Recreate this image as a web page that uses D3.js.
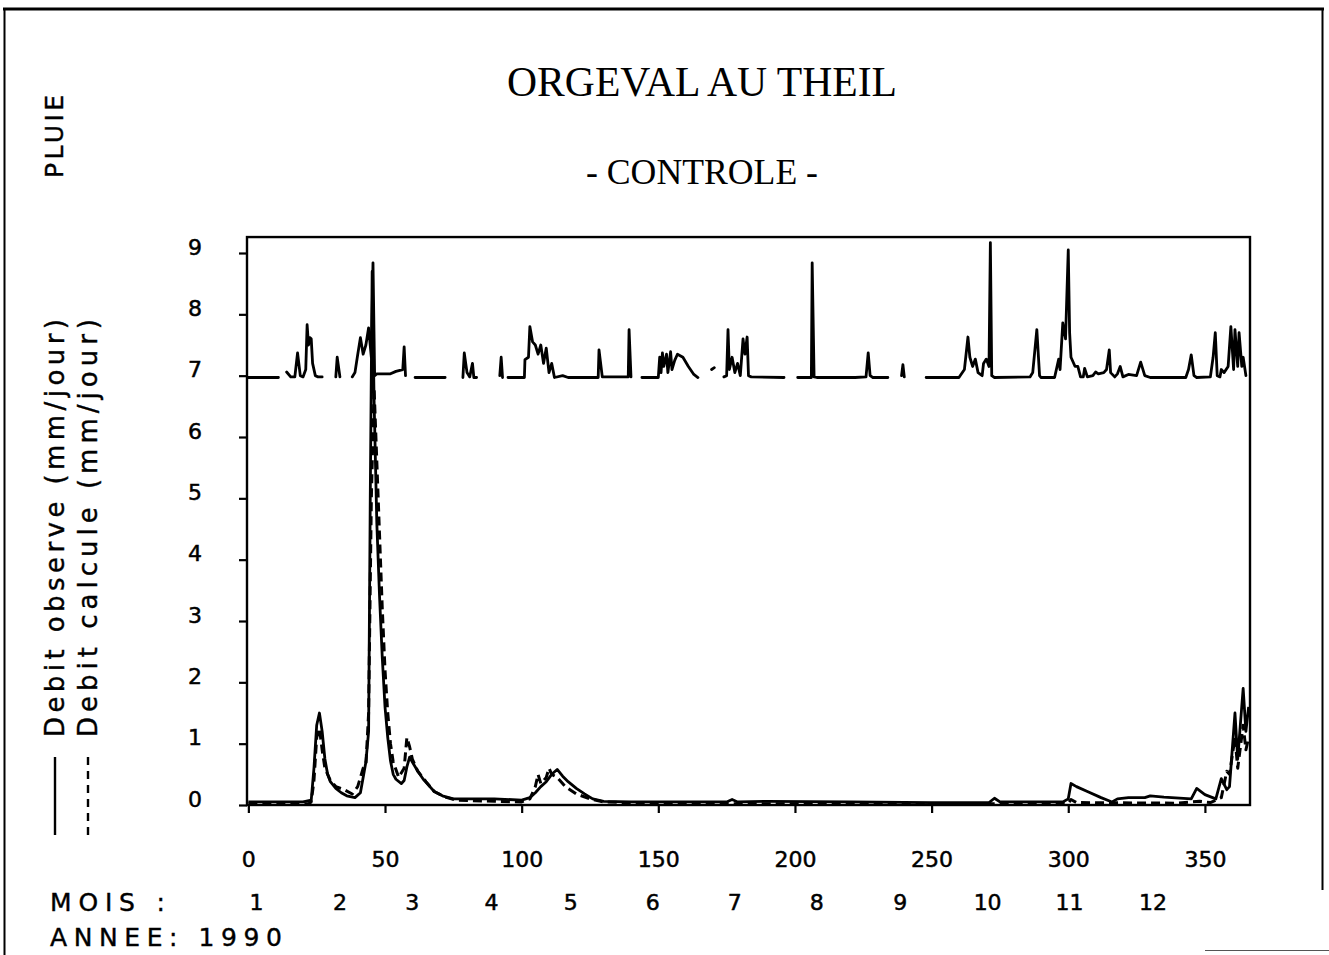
<!DOCTYPE html>
<html><head><meta charset="utf-8">
<script src="https://cdn.jsdelivr.net/npm/d3@7"></script>
<style>html,body{margin:0;padding:0;background:#fff;}svg{display:block;}</style>
</head><body>
<script>
// ---------- data ----------
const title = "ORGEVAL AU THEIL";
const subtitle = "- CONTROLE -";
const yTicks = [0,1,2,3,4,5,6,7,8,9];
const xTicks = [0,50,100,150,200,250,300,350];
const monthLabels = ["1","2","3","4","5","6","7","8","9","10","11","12"];
const monthLabelDays = [3,33.5,60,89,118,148,178,208,238.5,270.5,300.5,331];
const year = "1990";

// observed discharge (mm/jour): [day, value]
const debitObserve = [
 [0,0.05],[10,0.05],[20,0.05],[23,0.08],[24,0.6],[25,1.3],[26,1.5],[27,1.2],[28,0.75],[29,0.5],[30,0.38],
 [32,0.27],[34,0.2],[36,0.15],[39,0.12],[41,0.2],[42,0.45],[43,0.7],[44,1.2],[44.6,5.0],[45.3,8.7],[46,6.6],
 [47,4.6],[48,3.4],[49,2.4],[50,1.6],[51,1.1],[52,0.72],[53,0.5],[54,0.42],[56,0.35],[57,0.4],[58,0.62],
 [59,0.78],[60,0.7],[62,0.55],[64,0.42],[66,0.32],[68,0.22],[71,0.15],[75,0.1],[80,0.1],[90,0.1],[100,0.08],
 [103,0.12],[105,0.2],[107,0.3],[109,0.38],[111,0.5],[113,0.58],[115,0.47],[117,0.38],[120,0.27],[123,0.18],
 [126,0.1],[130,0.06],[140,0.05],[160,0.05],[175,0.05],[177,0.09],[179,0.05],[190,0.06],[220,0.05],[250,0.04],
 [271,0.04],[273,0.11],[275,0.05],[298,0.05],[300,0.1],[301,0.35],[303,0.3],[307,0.22],[312,0.12],[316,0.05],
 [318,0.1],[322,0.12],[328,0.12],[330,0.15],[335,0.13],[345,0.1],[347,0.27],[350,0.17],[354,0.1],[356,0.43],
 [358,0.25],[359,0.3],[361,1.5],[362,0.75],[364,1.9],[365,1.2],[366,1.6]
];
// computed discharge (mm/jour): [day, value]
const debitCalcule = [
 [0,0.02],[22,0.02],[23,0.05],[24,0.4],[25,1.1],[26,1.25],[27,0.9],[28,0.6],[30,0.4],[32,0.3],[35,0.25],
 [38,0.18],[40,0.3],[42,0.6],[43,0.65],[44,1.5],[45,5.0],[46,6.8],[47,5.6],[48,4.4],[49,3.2],[50,2.2],
 [51,1.5],[52,1.0],[53,0.7],[55,0.45],[57,0.6],[58,1.1],[59,0.95],[60,0.75],[62,0.55],[65,0.38],[68,0.22],
 [72,0.13],[76,0.08],[90,0.06],[100,0.05],[103,0.1],[105,0.3],[106,0.5],[107,0.35],[109,0.45],[110,0.6],
 [111,0.5],[113,0.45],[116,0.3],[120,0.18],[125,0.1],[130,0.05],[150,0.02],[200,0.02],[270,0.02],[300,0.03],
 [301,0.09],[303,0.04],[340,0.03],[348,0.06],[352,0.04],[356,0.12],[358,0.55],[359,0.5],[361,1.1],[362,0.6],
 [364,1.3],[365,0.9],[366,1.1]
];
// rainfall trace (plotted on the same axis, baseline 7); null = pen lifted
const pluie = [
 [0,6.97],[11,6.97],[12,null],
 [14,7.06],[15.5,6.98],[17,6.98],[18,7.37],[19,7.0],[20,6.98],[21,7.1],[21.5,7.83],[22,7.5],[22.5,7.62],[23,7.6],
 [23.5,7.2],[24.5,7.0],[25.5,6.98],[27,6.98],[28,null],
 [32,6.98],[32.5,7.3],[33.5,6.98],[34,null],
 [38,6.98],[39,7.05],[40,7.34],[41,7.62],[42,7.35],[43,7.5],[44,7.78],[45,7.3],[45.6,8.84],[46.2,7.0],[47,7.03],
 [52,7.03],[54,7.07],[56.5,7.1],[57,7.47],[57.5,7.0],[58,null],
 [61,6.97],[72,6.97],[73,null],
 [78.5,6.97],[79,7.37],[80,7.05],[81,6.98],[82,7.2],[82.5,6.97],[83.5,6.97],[84,null],
 [92,7.0],[92.5,7.3],[93,6.97],[94,null],
 [95,6.97],[101,6.97],[101.2,7.26],[102.5,7.3],[103,7.8],[104,7.55],[105,7.5],[106,7.35],[107,7.5],[108,7.2],
 [109,7.45],[110,7.05],[111,7.2],[112,6.97],[115,7.0],[117,6.97],[128,6.97],[128.3,7.42],[129.5,6.98],[139,6.98],
 [139.3,7.75],[140,6.98],[141,null],
 [144,6.97],[150,6.97],[150.5,7.3],[151,7.05],[151.5,7.37],[152,7.15],[153,7.35],[153.5,7.05],[154.5,7.39],
 [155,7.1],[156,7.25],[157,7.35],[159,7.3],[161,7.15],[163,7.02],[164.5,6.97],[165,null],
 [169.5,7.1],[170.5,7.13],[171,null],
 [174,6.98],[175,7.0],[175.5,7.75],[176,7.1],[177,7.3],[178,7.05],[179,7.2],[180,7.0],[181,7.6],[181.7,7.35],
 [182.5,7.63],[183,7.0],[184,6.98],[196,6.97],[197,null],
 [201,6.97],[206,6.97],[206.3,8.84],[207,6.98],[208,6.97],[222,6.97],[226,6.98],[226.8,7.37],[227.5,7.0],
 [228.5,6.97],[234,6.97],[235,null],
 [239,7.0],[239.5,7.18],[240,6.98],[241,null],
 [248,6.97],[260,6.97],[262,7.1],[263.3,7.63],[264,7.3],[265,7.15],[266,7.27],[267,7.05],[268.5,7.0],[269,7.2],
 [270,7.27],[271,7.15],[271.5,9.17],[272,7.0],[273,6.97],[286,6.98],[287,7.05],[288.5,7.75],[289.5,7.0],
 [290,6.97],[295,6.97],[296.5,7.27],[297,7.1],[298,7.86],[299,7.6],[300,9.05],[300.5,7.7],[301,7.3],
 [302.5,7.15],[303.5,7.15],[304.5,6.98],[305.5,6.98],[306,7.12],[307,6.98],[309,7.0],[310,7.06],[311,7.03],
 [313,7.05],[314,7.1],[315,7.42],[315.5,7.05],[317,6.98],[318,7.03],[319,7.15],[320,6.98],[322,7.02],[325,7.0],
 [326.5,7.22],[328,7.0],[330,6.97],[343,6.97],[344,7.1],[345,7.34],[346,7.0],[347,6.97],[352,6.98],[353,7.3],
 [353.8,7.7],[354.5,7.0],[355.5,6.98],[356,7.1],[357,7.05],[358.5,7.15],[359.5,7.8],[360.5,7.1],[361,7.75],
 [362,7.15],[362.5,7.7],[363.5,7.15],[364,7.3],[365,7.0]
];

// ---------- drawing ----------
const W = 1329, H = 955;
const svg = d3.select("body").append("svg").attr("width", W).attr("height", H);
const x = d3.scaleLinear().domain([-0.5, 366.5]).range([247, 1250]);
const y = d3.scaleLinear().domain([0, 9]).range([805, 253]);
const sans = "'DejaVu Sans', sans-serif";
const serif = "'Liberation Serif', 'Times New Roman', serif";

// outer frame
const frame = svg.append("g").attr("stroke", "#000").attr("fill", "none");
frame.append("line").attr("x1", 3).attr("x2", 1324).attr("y1", 9).attr("y2", 9).attr("stroke-width", 3);
frame.append("line").attr("x1", 4.5).attr("x2", 4.5).attr("y1", 8).attr("y2", 955).attr("stroke-width", 2);
frame.append("line").attr("x1", 1322.5).attr("x2", 1322.5).attr("y1", 8).attr("y2", 890).attr("stroke-width", 2);
frame.append("line").attr("x1", 1205).attr("x2", 1329).attr("y1", 950.5).attr("y2", 950.5).attr("stroke-width", 1).attr("stroke", "#555");

// titles
svg.append("text").attr("x", 702).attr("y", 96).attr("text-anchor", "middle")
  .attr("font-family", serif).attr("font-size", 42).attr("textLength", 390)
  .attr("lengthAdjust", "spacingAndGlyphs").text(title);
svg.append("text").attr("x", 702).attr("y", 184).attr("text-anchor", "middle")
  .attr("font-family", serif).attr("font-size", 35).attr("textLength", 232)
  .attr("lengthAdjust", "spacingAndGlyphs").text(subtitle);

// plot box
const yTop = 9.26;
svg.append("rect").attr("x", x(-0.5)).attr("y", y(yTop)).attr("width", x(366.5) - x(-0.5))
  .attr("height", y(0) - y(yTop)).attr("fill", "none").attr("stroke", "#000").attr("stroke-width", 2.4);

// axes
const tickFont = g => g.attr("font-family", sans).attr("font-size", 22).attr("fill", "#000")
  .attr("stroke", "#000").attr("stroke-width", 0.5);
const yAxis = d3.axisLeft(y).tickValues(yTicks).tickSize(8).tickPadding(40).tickFormat(d3.format("d"));
const gy = svg.append("g").attr("transform", `translate(${x(-0.5)},0)`).call(yAxis);
gy.select(".domain").remove();
gy.selectAll("line").attr("stroke", "#000").attr("stroke-width", 2.2);
gy.selectAll("text").call(tickFont).attr("text-anchor", "middle").attr("dx", -4).attr("dy", "0.05em");

const xAxis = d3.axisBottom(x).tickValues(xTicks).tickSize(8).tickPadding(38).tickFormat(d3.format("d"));
const gx = svg.append("g").attr("transform", `translate(0,${y(0)})`).call(xAxis);
gx.select(".domain").remove();
gx.selectAll("line").attr("stroke", "#000").attr("stroke-width", 2.2);
gx.selectAll("text").call(tickFont);

// month row
function htext(xp, yp, str, len) {
  svg.append("text").attr("x", xp).attr("y", yp).attr("font-family", sans).attr("font-size", 25)
    .attr("stroke", "#000").attr("stroke-width", 0.4)
    .attr("textLength", len).attr("lengthAdjust", "spacing").text(str);
}
htext(50, 911, "MOIS :", 115);
svg.append("g").selectAll("text").data(monthLabels).join("text")
  .attr("x", (d, i) => x(monthLabelDays[i])).attr("y", 910).attr("text-anchor", "middle")
  .attr("font-family", sans).attr("font-size", 22).attr("stroke", "#000").attr("stroke-width", 0.5)
  .text(d => d);
htext(50, 946, "ANNEE: " + year, 232);

// series
const line = d3.line().defined(d => d[1] !== null).x(d => x(d[0])).y(d => y(d[1]));
svg.append("path").datum(pluie).attr("d", line).attr("fill", "none").attr("stroke", "#000")
  .attr("stroke-width", 2.8).attr("stroke-linejoin", "round").attr("stroke-linecap", "round");
svg.append("path").datum(debitCalcule).attr("d", line).attr("fill", "none").attr("stroke", "#000")
  .attr("stroke-width", 3).attr("stroke-dasharray", "9,5").attr("stroke-linejoin", "round");
svg.append("path").datum(debitObserve).attr("d", line).attr("fill", "none").attr("stroke", "#000")
  .attr("stroke-width", 2.8).attr("stroke-linejoin", "round");

// left rotated labels
function vtext(xp, yp, str, len, fs) {
  svg.append("text").attr("transform", `translate(${xp},${yp}) rotate(-90)`)
    .attr("font-family", sans).attr("font-size", fs).attr("stroke", "#000").attr("stroke-width", 0.4)
    .attr("textLength", len).attr("lengthAdjust", "spacing").text(str);
}
vtext(63, 178, "PLUIE", 83, 25);
svg.append("line").attr("x1", 55).attr("x2", 55).attr("y1", 835).attr("y2", 757)
  .attr("stroke", "#000").attr("stroke-width", 2.4);
vtext(64, 737, "Debit observe (mm/jour)", 418, 26);
svg.append("line").attr("x1", 88).attr("x2", 88).attr("y1", 835).attr("y2", 757)
  .attr("stroke", "#000").attr("stroke-width", 2.4).attr("stroke-dasharray", "8,6");
vtext(97, 737, "Debit calcule (mm/jour)", 418, 26);
</script>
</body></html>
